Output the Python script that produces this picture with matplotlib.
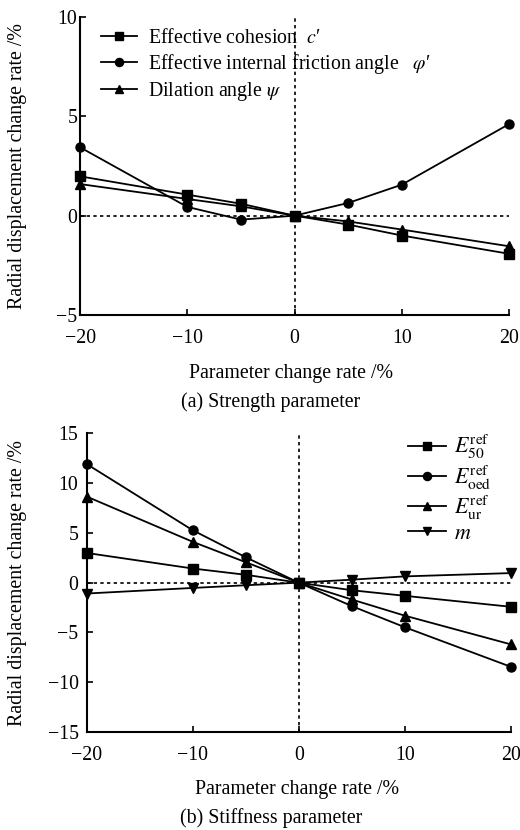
import matplotlib

matplotlib.use("Agg")
import matplotlib.pyplot as plt

plt.rcParams["font.family"] = ["Liberation Serif", "DejaVu Serif"]
plt.rcParams["mathtext.fontset"] = "stix"

# ---------------------------------------------------------------------------
# Data
# ---------------------------------------------------------------------------

change_rate = [-20, -10, -5, 0, 5, 10, 20]

# (a) strength parameters
cohesion = [1.98, 1.06, 0.6, 0.0, -0.45, -1.0, -1.92]
friction = [3.44, 0.44, -0.2, 0.0, 0.64, 1.56, 4.61]
dilation = [1.59, 0.84, 0.47, 0.0, -0.29, -0.7, -1.54]

# (b) stiffness parameters
e50 = [2.98, 1.42, 0.79, 0.0, -0.76, -1.32, -2.42]
eoed = [11.9, 5.26, 2.55, 0.0, -2.35, -4.47, -8.44]
eur = [8.64, 4.1, 2.05, 0.0, -1.69, -3.31, -6.19]
m_exp = [-1.09, -0.53, -0.26, 0.0, 0.3, 0.63, 0.96]

strength_labels = [
    "Effective cohesion  $c$\u2032",
    "Effective internal friction angle   $\\varphi$\u2032",
    r"Dilation angle $\psi$",
]
stiffness_labels = [
    r"$E_{50}^{\mathrm{ref}}$",
    r"$E_{\mathrm{oed}}^{\mathrm{ref}}$",
    r"$E_{\mathrm{ur}}^{\mathrm{ref}}$",
    r"$m$",
]

FS = 14.3


def style_axes(ax, ylim, yticks, ypad):
    ax.set_xlim(-20, 20)
    ax.set_ylim(*ylim)
    ax.set_xticks([-20, -10, 0, 10, 20])
    ax.set_yticks(yticks)
    ax.set_xticklabels(["\u221220", "\u221210", "0", "10", "20"])
    ax.set_yticklabels([("\u2212" + str(-t)) if t < 0 else str(t) for t in yticks])
    ax.tick_params(direction="in", length=4, width=1.2, labelsize=FS)
    ax.tick_params(axis="x", pad=10)
    ax.tick_params(axis="y", pad=ypad)
    ax.spines[["top", "right"]].set_visible(False)
    ax.spines[["left", "bottom"]].set_linewidth(1.5)
    ax.axhline(0, color="black", linestyle=(0, (2, 2)), linewidth=1.2, zorder=1)
    ax.axvline(0, color="black", linestyle=(0, (2, 2)), linewidth=1.2, zorder=1)
    ax.set_ylabel("Radial displacement change rate /%", fontsize=FS)


fig = plt.figure(figsize=(5.2, 8.3), dpi=100)
kw = dict(color="black", linewidth=1.3, markersize=6.5, clip_on=False, zorder=3)

# (a) strength
ax1 = fig.add_axes([0.154, 0.6205, 0.825, 0.359])
ax1.plot(change_rate, cohesion, marker="s", label=strength_labels[0], **kw)
ax1.plot(change_rate, friction, marker="o", label=strength_labels[1], **kw)
ax1.plot(change_rate, dilation, marker="^", label=strength_labels[2], **kw)
style_axes(ax1, (-5, 10), [-5, 0, 5, 10], ypad=2)
ax1.yaxis.set_label_coords(-0.123, 0.5)
ax1.legend(loc="upper left", bbox_to_anchor=(0.02, 1.0), frameon=False, fontsize=FS,
           handlelength=1.85, handletextpad=0.55, labelspacing=0.2, borderaxespad=0.2,
           markerscale=0.9)
fig.text(0.56, 0.5506, "Parameter change rate /%", ha="center", va="center", fontsize=FS)
fig.text(0.521, 0.5157, "(a) Strength parameter", ha="center", va="center", fontsize=FS)

# (b) stiffness
ax2 = fig.add_axes([0.167, 0.118, 0.815, 0.360])
ax2.plot(change_rate, e50, marker="s", label=stiffness_labels[0], **kw)
ax2.plot(change_rate, eoed, marker="o", label=stiffness_labels[1], **kw)
ax2.plot(change_rate, eur, marker="^", label=stiffness_labels[2], **kw)
ax2.plot(change_rate, m_exp, marker="v", label=stiffness_labels[3], **kw)
style_axes(ax2, (-15, 15), [-15, -10, -5, 0, 5, 10, 15], ypad=6)
ax2.yaxis.set_label_coords(-0.141, 0.5)
ax2.legend(loc="upper right", bbox_to_anchor=(0.985, 1.045), frameon=False, fontsize=FS + 1.5,
           handlelength=1.75, handletextpad=0.35, labelspacing=0.08, borderaxespad=0.2,
           markerscale=0.9)
fig.text(0.571, 0.0482, "Parameter change rate /%", ha="center", va="center", fontsize=FS)
fig.text(0.521, 0.0145, "(b) Stiffness parameter", ha="center", va="center", fontsize=FS)

fig.savefig("out.png", dpi=100)
